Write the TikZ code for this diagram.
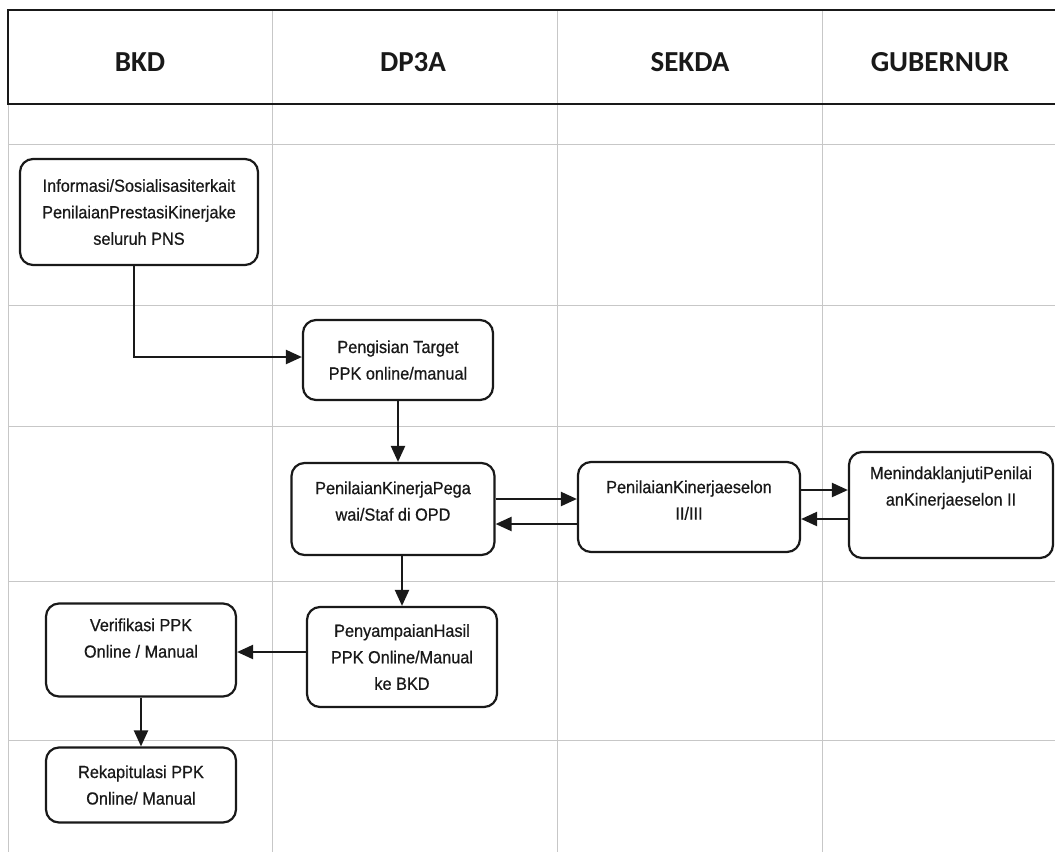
\documentclass[tikz,border=0pt]{standalone}
\usepackage{fontspec}
\setmainfont{Liberation Sans}
\newfontfamily\hdfont{Carlito}
\newfontfamily\bxfont[FakeStretch=0.93,FakeBold=0.6]{Liberation Sans}
\usetikzlibrary{arrows.meta,calc}
\begin{document}
\begin{tikzpicture}[x=1pt,y=-1pt]
\tikzset{
  proc/.style={draw=black!90, line width=2.2pt, rounded corners=13pt, align=center,
    font=\bxfont\fontsize{17.5}{26.5}\selectfont, text=black!90, inner sep=0pt},
  conn/.style={draw=black!90, line width=2.2pt, -{Triangle[length=16pt,width=14pt]}},
  gridln/.style={draw=black!22, line width=0.7pt},
  head/.style={font=\hdfont\bfseries\fontsize{29}{32}\selectfont, text=black!90}
}
\useasboundingbox[fill=white] (0,0) rectangle (1055,852);
% grid
\foreach \yy in {144,305,426,581,740} \draw[gridln] (8,\yy) -- (1055,\yy);
\foreach \xx in {8,272,557,822} \draw[gridln] (\xx,10) -- (\xx,852);
% header
\draw[line width=2pt, black!90] (1056,10) -- (8,10) -- (8,104) -- (1056,104);
\node[head] (hbkd) at (140,62) {BKD};
\node[head] (hdp) at (413,62) {DP3A};
\node[head] (hsek) at (690,62) {SEKDA};
\node[head] (hgub) at (940,62) {GUBERNUR};
% boxes
\node[proc, minimum width=238pt, minimum height=106pt] (b1) at (139,212)
  {Informasi/Sosialisasiterkait\\PenilaianPrestasiKinerjake\\seluruh PNS};
\node[proc, minimum width=190pt, minimum height=80pt] (b2) at (398,360)
  {Pengisian Target\\PPK online/manual};
\node[proc, minimum width=203pt, minimum height=92pt, text depth=16pt] (b3) at (393,509)
  {PenilaianKinerjaPega\\wai/Staf di OPD};
\node[proc, minimum width=222pt, minimum height=90pt, text depth=14pt] (b4) at (689,507)
  {PenilaianKinerjaeselon\\II/III};
\node[proc, minimum width=204pt, minimum height=106pt, text depth=38pt] (b5) at (951,505)
  {MenindaklanjutiPenilai\\anKinerjaeselon II};
\node[proc, minimum width=190pt, minimum height=93pt, text depth=24pt] (b6) at (141,650)
  {Verifikasi PPK\\Online / Manual};
\node[proc, minimum width=190pt, minimum height=100pt] (b7) at (402,657)
  {PenyampaianHasil\\PPK Online/Manual\\ke BKD};
\node[proc, minimum width=190pt, minimum height=75pt] (b8) at (141,785)
  {Rekapitulasi PPK\\Online/ Manual};
% connectors
\draw[conn] ([xshift=-5pt]b1.south) |- ([yshift=3pt]b2.west);
\draw[conn] (b2.south) -- (b2.south |- b3.north);
\draw[conn] ([yshift=10pt]b3.east) -- ([yshift=10pt]b3.east -| b4.west);
\draw[conn] ([yshift=-17pt]b4.west) -- ([yshift=-17pt]b4.west -| b3.east);
\draw[conn] ([yshift=17pt]b4.east) -- ([yshift=17pt]b4.east -| b5.west);
\draw[conn] ([yshift=-14pt]b5.west) -- ([yshift=-14pt]b5.west -| b4.east);
\draw[conn] (b3.south -| b7.north) -- (b7.north);
\draw[conn] ([yshift=5pt]b7.west) -- ([yshift=5pt]b7.west -| b6.east);
\draw[conn] (b6.south) -- (b8.north);
\end{tikzpicture}
\end{document}
